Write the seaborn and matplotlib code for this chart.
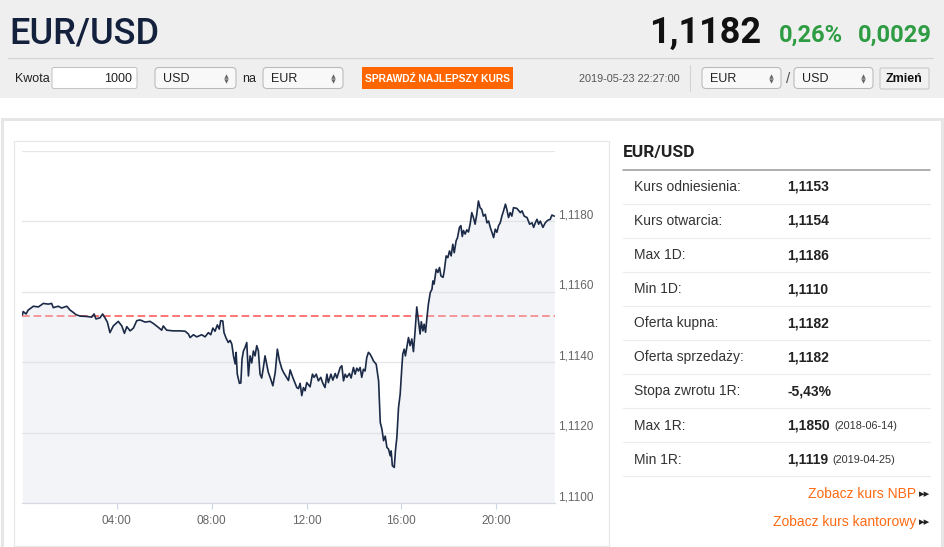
import matplotlib
matplotlib.use("Agg")
import matplotlib.pyplot as plt
from matplotlib.patches import FancyBboxPatch, Rectangle
import seaborn as sns

# ---- data ----
pair = "EUR/USD"
last_rate = "1,1182"
change_pct = "0,26%"
change_abs = "0,0029"
timestamp = "2019-05-23 22:27:00"
ref_rate = 1.1153  # kurs odniesienia

hours = [0.02, 0.05, 0.17, 0.26, 0.48, 0.69, 0.90, 1.11, 1.25, 1.32, 1.53, 1.67, 1.89, 2.03,
         2.17, 2.28, 2.45, 2.73, 2.94, 3.04, 3.12, 3.29, 3.40, 3.50, 3.60, 3.71, 3.85, 4.06,
         4.21, 4.32, 4.42, 4.56, 4.70, 4.84, 4.98, 5.19, 5.40, 5.54,
         5.75, 5.89, 5.96, 6.10, 6.38, 6.67, 6.88, 7.02, 7.09, 7.23, 7.37, 7.58, 7.72, 7.86,
         7.96, 8.05, 8.14, 8.24, 8.32, 8.38, 8.47, 8.52, 8.61, 8.70, 8.78, 8.85, 8.92, 8.99,
         9.03, 9.08, 9.17, 9.23, 9.28, 9.34, 9.41, 9.48, 9.55, 9.62, 9.69, 9.76, 9.83, 9.90,
         9.97, 10.04, 10.11, 10.18, 10.25, 10.32, 10.39, 10.49, 10.58, 10.68, 10.77, 10.86,
         10.96, 11.03, 11.14, 11.24,
         11.31, 11.42, 11.52, 11.59, 11.66, 11.73, 11.80, 11.87, 11.94, 12.01, 12.08, 12.15,
         12.25, 12.32, 12.41, 12.50, 12.60, 12.69, 12.78, 12.86, 12.92, 13.03, 13.11, 13.21,
         13.28, 13.42, 13.49, 13.56, 13.63, 13.70, 13.81, 13.88, 13.98, 14.05, 14.12, 14.19,
         14.26, 14.33, 14.40, 14.47, 14.54, 14.61, 14.68, 14.76, 14.82, 14.94, 15.04, 15.11,
         15.18, 15.25, 15.32, 15.39, 15.46, 15.53, 15.57, 15.62, 15.70, 15.75, 15.81, 15.88,
         15.95, 16.02, 16.06, 16.12, 16.17,
         16.23, 16.30, 16.37, 16.44, 16.51, 16.58, 16.65, 16.72, 16.79, 16.84, 16.91, 16.96,
         17.02, 17.08, 17.14, 17.22, 17.29, 17.33, 17.38, 17.47, 17.54, 17.61, 17.67, 17.76,
         17.81, 17.89, 17.96, 18.03, 18.10, 18.17, 18.23, 18.31, 18.37, 18.45, 18.51, 18.57,
         18.62, 18.69, 18.76, 18.83, 18.90, 18.97, 19.04, 19.11, 19.18, 19.25, 19.32, 19.39,
         19.46, 19.54, 19.61, 19.68, 19.75, 19.82, 19.89, 19.96, 20.03, 20.10, 20.17, 20.24,
         20.31, 20.39, 20.45, 20.52, 20.59, 20.66, 20.73, 20.87, 21.02, 21.09, 21.18, 21.30,
         21.41, 21.51, 21.58, 21.65, 21.72, 21.79, 21.86, 21.97, 22.07, 22.17, 22.28, 22.35,
         22.45]

rates = [1.11535, 1.11544, 1.11537, 1.11548, 1.11559, 1.11557, 1.11567, 1.11565, 1.11567,
         1.11555, 1.11559, 1.11554, 1.11559, 1.11548, 1.11541, 1.11535, 1.11531, 1.11530,
         1.11528, 1.11537, 1.11523, 1.11526, 1.11537, 1.11526, 1.11514, 1.11484, 1.11503,
         1.11516, 1.11503, 1.11482, 1.11501, 1.11489, 1.11497, 1.11518, 1.11520, 1.11514,
         1.11516, 1.11510,
         1.11499, 1.11491, 1.11503, 1.11491, 1.11489, 1.11489, 1.11488, 1.11480, 1.11470,
         1.11478, 1.11472, 1.11478, 1.11472, 1.11484, 1.11478, 1.11497, 1.11488, 1.11506,
         1.11494, 1.11518, 1.11517, 1.11484, 1.11468, 1.11456, 1.11462, 1.11451, 1.11418,
         1.11395, 1.11428, 1.11366, 1.11340, 1.11341, 1.11409, 1.11432, 1.11442, 1.11456,
         1.11361, 1.11418, 1.11398, 1.11432, 1.11418, 1.11447, 1.11432, 1.11366, 1.11355,
         1.11385, 1.11418, 1.11395, 1.11371, 1.11352, 1.11333, 1.11371, 1.11437, 1.11404,
         1.11381, 1.11371, 1.11359, 1.11348,
         1.11378, 1.11357, 1.11340, 1.11328, 1.11325, 1.11340, 1.11305, 1.11328, 1.11319,
         1.11342, 1.11336, 1.11330, 1.11366, 1.11357, 1.11366, 1.11347, 1.11357, 1.11340,
         1.11328, 1.11366, 1.11342, 1.11366, 1.11349, 1.11368, 1.11355, 1.11385, 1.11390,
         1.11347, 1.11366, 1.11357, 1.11368, 1.11355, 1.11385, 1.11366, 1.11383, 1.11375,
         1.11385, 1.11357, 1.11380, 1.11375, 1.11413, 1.11428, 1.11423, 1.11413, 1.11404,
         1.11394, 1.11347, 1.11229, 1.11210, 1.11177, 1.11190, 1.11158, 1.11153, 1.11134,
         1.11148, 1.11106, 1.11101, 1.11148, 1.11186, 1.11271, 1.11309, 1.11385, 1.11423,
         1.11437, 1.11418,
         1.11442, 1.11470, 1.11447, 1.11466, 1.11430, 1.11489, 1.11557, 1.11518, 1.11480,
         1.11515, 1.11489, 1.11508, 1.11485, 1.11527, 1.11565, 1.11598, 1.11607, 1.11631,
         1.11622, 1.11664, 1.11655, 1.11669, 1.11645, 1.11641, 1.11660, 1.11702, 1.11697,
         1.11716, 1.11702, 1.11735, 1.11711, 1.11745, 1.11754, 1.11783, 1.11788, 1.11757,
         1.11774, 1.11764, 1.11776, 1.11770, 1.11792, 1.11825, 1.11811, 1.11792, 1.11820,
         1.11858, 1.11839, 1.11834, 1.11815, 1.11820, 1.11796, 1.11801, 1.11783, 1.11769,
         1.11754, 1.11778, 1.11769, 1.11788, 1.11796, 1.11815, 1.11830, 1.11849, 1.11834,
         1.11811, 1.11825, 1.11815, 1.11839, 1.11837, 1.11825, 1.11830, 1.11815, 1.11811,
         1.11792, 1.11796, 1.11783, 1.11796, 1.11806, 1.11792, 1.11801, 1.11783, 1.11796,
         1.11803, 1.11806, 1.11818, 1.11815]

y_ticks = [1.1100, 1.1120, 1.1140, 1.1160, 1.1180, 1.1200]
y_labels = ["1,1100", "1,1120", "1,1140", "1,1160", "1,1180", ""]
x_ticks = [4, 8, 12, 16, 20]
x_labels = ["04:00", "08:00", "12:00", "16:00", "20:00"]

stat_names = ["Kurs odniesienia:", "Kurs otwarcia:", "Max 1D:", "Min 1D:", "Oferta kupna:",
              "Oferta sprzedaży:", "Stopa zwrotu 1R:", "Max 1R:", "Min 1R:"]
stat_values = ["1,1153", "1,1154", "1,1186", "1,1110", "1,1182", "1,1182", "-5,43%",
               "1,1850", "1,1119"]
stat_dates = ["", "", "", "", "", "", "", "(2018-06-14)", "(2019-04-25)"]
links = ["Zobacz kurs NBP", "Zobacz kurs kantorowy"]

# ---- figure ----
sns.set_theme(style="white")
plt.rcParams["font.family"] = ["Liberation Sans", "DejaVu Sans"]

W, H = 945, 547
fig = plt.figure(figsize=(W / 100, H / 100), dpi=100)
fig.patch.set_facecolor("white")

# background layer in pixel coordinates (y down)
bg = fig.add_axes([0, 0, 1, 1], zorder=0)
bg.set_xlim(0, W)
bg.set_ylim(H, 0)
bg.axis("off")


def rbox(x0, y0, x1, y1, fc, ec, r=3, lw=0.75):
    bg.add_patch(FancyBboxPatch((x0, y0), x1 - x0, y1 - y0,
                                boxstyle=f"round,pad=0,rounding_size={r}",
                                fc=fc, ec=ec, lw=lw))


def select(x0, x1, label):
    rbox(x0, 67.5, x1, 88.5, "#f8f8f8", "#b9b9b9", r=4)
    bg.text(x0 + 8, 78.5, label, fontsize=9, color="#222", va="center")
    bg.plot(x1 - 10, 75.8, marker="^", ms=3.2, color="#666", mew=0)
    bg.plot(x1 - 10, 81.2, marker="v", ms=3.2, color="#666", mew=0)


# header band
bg.add_patch(Rectangle((0, 0), W, 98, fc="#efefef", ec="none"))
bg.plot([8, 933], [57.5, 57.5], color="#d4d4d4", lw=0.8)

bg.text(9, 43, pair, fontsize=26, color="#14213d", va="baseline",
        family=["Roboto", "DejaVu Sans"], fontweight="medium")
bg.text(761, 43, last_rate, fontsize=26, color="#111", va="baseline", ha="right",
        family=["Roboto", "DejaVu Sans"], fontweight="bold")
bg.text(843, 42, change_pct, fontsize=17, color="#2e9c42", va="baseline", ha="right",
        family=["Roboto", "DejaVu Sans"], fontweight="bold")
bg.text(932, 42, change_abs, fontsize=17, color="#2e9c42", va="baseline", ha="right",
        family=["Roboto", "DejaVu Sans"], fontweight="bold")

# controls row
bg.text(15, 78.5, "Kwota", fontsize=9, color="#222", va="center")
rbox(52, 67.5, 137, 88.5, "white", "#c4c4c4", r=2)
bg.text(132, 78.5, "1000", fontsize=9, color="#222", va="center", ha="right")
select(155, 236, "USD")
bg.text(242, 78.5, "na", fontsize=9, color="#222", va="center")
select(263, 343, "EUR")
bg.add_patch(Rectangle((362, 67), 151, 22, fc="#ff6600", ec="none"))
bg.text(437.5, 78.5, "SPRAWDŹ NAJLEPSZY KURS", fontsize=7.4, color="white",
        va="center", ha="center", fontweight="bold",
        family=["Liberation Sans Narrow", "Liberation Sans", "DejaVu Sans"])
bg.text(680, 79.5, timestamp, fontsize=7.8, color="#555", va="center", ha="right")
bg.plot([689.5, 689.5], [65, 91], color="#d2d2d2", lw=0.8)
select(702, 781, "EUR")
bg.text(788, 79, "/", fontsize=11, color="#555", va="center", ha="center")
select(794, 873, "USD")
rbox(880, 68, 929, 89, "#f1f1f1", "#c6c6c6", r=1.5)
bg.text(904.5, 78.8, "Zmień", fontsize=9, color="#111", va="center", ha="center",
        fontweight="bold")

# content frames
bg.add_patch(Rectangle((1.5, 118.5), 940, 440, fc="white", ec="#e6e6e6", lw=2.2))
bg.add_patch(Rectangle((13.5, 140.5), 595, 405, fc="white", ec="#e6e6e6", lw=0.8))

# side panel with statistics
bg.text(623, 153, pair, fontsize=12.5, color="#222", va="center",
        family=["Roboto", "DejaVu Sans"], fontweight="bold")
bg.plot([623, 930], [169.5, 169.5], color="#9a9a9a", lw=1.1)
row_top, row_h = 169.5, 34.1
for i, (name, val, dt) in enumerate(zip(stat_names, stat_values, stat_dates)):
    yc = row_top + row_h * (i + 0.5) + 0.3
    bg.text(633.5, yc, name, fontsize=10, color="#333", va="center")
    t = bg.text(787.5, yc, val, fontsize=10, color="#222", va="center", fontweight="bold")
    if dt:
        bg.annotate(dt, xy=(1, 0.5), xycoords=t, xytext=(3, -0.5), textcoords="offset points",
                    fontsize=7.8, color="#333", va="center", ha="left")
    bg.plot([623, 930], [row_top + row_h * (i + 1)] * 2, color="#ececec", lw=0.8)

for j, link in enumerate(links):
    yl = 494.5 + 27.5 * j
    bg.text(916, yl, link, fontsize=10, color="#ff6a13", va="center", ha="right")
    bg.text(930, yl, "▸▸", fontsize=8, color="#222", va="center", ha="right",
            family=["DejaVu Sans"])

# ---- the rate chart ----
px0, px1, py0, py1 = 22, 555, 151, 503
ax = fig.add_axes([px0 / W, 1 - py1 / H, (px1 - px0) / W, (py1 - py0) / H], zorder=2)
ax.patch.set_alpha(0)

ax.axhline(ref_rate, color="#ff6b6b", lw=1.3, ls=(0, (4.3, 2.1)), zorder=1)
ax.fill_between(hours, rates, 1.11, color="#d9dee7", alpha=0.32, lw=0, zorder=2)
sns.lineplot(x=hours, y=rates, ax=ax, color="#1b2a47", lw=1.2, zorder=3)

ax.set_xlim(0, 22.48)
ax.set_ylim(y_ticks[0], y_ticks[-1])
ax.set_yticks(y_ticks)
ax.set_yticklabels(y_labels)
ax.set_xticks(x_ticks)
ax.set_xticklabels(x_labels)
ax.yaxis.tick_right()
ax.yaxis.grid(True, color="#e6e6e6", lw=0.9)
ax.xaxis.grid(False)
for s in ["top", "left", "right"]:
    ax.spines[s].set_visible(False)
ax.spines["bottom"].set_color("#d5dae3")
ax.spines["bottom"].set_linewidth(0.9)
ax.tick_params(axis="y", length=0, pad=2, labelsize=8.5, labelcolor="#666")
ax.tick_params(axis="x", length=4, width=0.8, color="#ccd6eb", pad=4.5,
               labelsize=8.5, labelcolor="#666", bottom=True)
for lab in ax.get_yticklabels():
    lab.set_verticalalignment("bottom")
ax.set_xlabel("")
ax.set_ylabel("")

fig.savefig("out.png", dpi=100)
